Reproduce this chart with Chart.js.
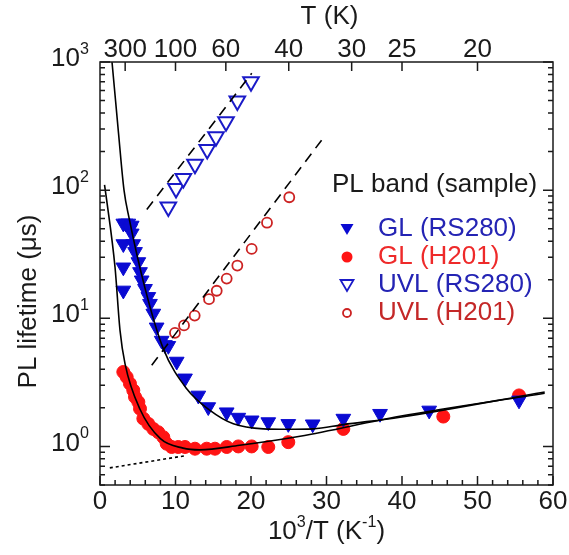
<!DOCTYPE html>
<html>
<head>
<meta charset="utf-8">
<script src="https://cdn.jsdelivr.net/npm/chart.js@4.4.1/dist/chart.umd.min.js"></script>
<style>
  body { margin: 0; background: #fff; }
  #wrap { width: 569px; height: 555px; }
</style>
</head>
<body>
<div id="wrap"><canvas id="lifetimeChart" width="569" height="555"></canvas></div>
<script>
// axis ranges and tick labels
const xMin = 0, xMax = 60;
const yMin = 0.5, yMax = 1000;
const bottomTicks = [0, 10, 20, 30, 40, 50, 60];
const yDecades = [0, 1, 2, 3];
const topTemps = [300, 100, 60, 40, 30, 25, 20];

// GL band, sample RS280 (filled blue triangles)
const glRsX = [3.09, 3.4, 3.75, 4.0, 4.2, 3.09, 4.2, 4.4, 4.64, 3.09, 5.08, 5.3, 5.52, 3.09, 5.96, 6.4, 6.62, 7.06, 7.5, 8.17, 8.6, 9.05, 10.16, 11.26, 13.02, 14.34, 16.78, 18.32, 20.09, 22.29, 24.94, 28.17, 32.23, 37.09, 43.6, 55.5];
const glRsY = [55, 55, 55, 50, 53, 38, 46, 38, 33, 25, 27.5, 23, 19.8, 16.5, 17, 14.7, 13, 10.9, 8.5, 6.7, 6.2, 6.1, 4.6, 3.4, 2.5, 2.03, 1.85, 1.68, 1.6, 1.55, 1.5, 1.49, 1.65, 1.8, 1.91, 2.29];

// GL band, sample H201 (filled red circles)
const glHX = [3.09, 3.53, 3.97, 4.41, 4.64, 5.08, 5.3, 5.74, 6.4, 7.06, 7.72, 8.39, 8.83, 9.49, 10.37, 11.26, 12.58, 14.13, 15.23, 16.78, 18.32, 20.09, 22.29, 24.94, 32.23, 45.47, 55.5];
const glHY = [3.81, 3.48, 3.09, 2.74, 2.43, 2.22, 1.97, 1.65, 1.5, 1.37, 1.29, 1.18, 1.05, 0.99, 0.99, 0.99, 0.96, 0.96, 0.96, 0.99, 1.0, 1.0, 0.99, 1.08, 1.37, 1.71, 2.5];

// UVL band, sample RS280 (open blue triangles)
const uvlRsX = [9.05, 10.07, 11.04, 12.58, 14.2, 15.36, 16.69, 18.19, 20.0];
const uvlRsY = [74, 103, 123, 159, 208, 261, 342, 496, 702];

// UVL band, sample H201 (open red circles)
const uvlHX = [9.93, 11.13, 12.54, 14.44, 15.46, 16.78, 18.19, 20.09, 22.12, 25.07];
const uvlHY = [7.7, 8.8, 10.5, 14.1, 16.4, 20.4, 25.8, 34.8, 55.7, 88];

// fitted curves
const fitRsX = [1.45, 1.59, 2.45, 3.18, 3.84, 5.96, 8.38, 11.48, 14.57, 17.66, 21.63, 24.73, 28.25, 32.23, 39.74, 58.9];
const fitRsY = [1200, 1000, 279, 100, 61, 17.2, 5.8, 2.82, 1.91, 1.5, 1.37, 1.36, 1.37, 1.48, 1.69, 2.66];
const fitHX = [0.6, 0.88, 1.99, 2.65, 3.31, 5.3, 8, 11, 13.2, 18.5, 26.5, 39.7, 58.9];
const fitHY = [110, 84, 25, 8.05, 4.43, 1.95, 1.15, 0.97, 0.94, 1.02, 1.2, 1.72, 2.6];
const dotX = [1.3, 11.5];
const dotY = [0.68, 0.85];
const dashRsX = [6.2, 20.1];
const dashRsY = [70.7, 816];
const dashHX = [6.85, 29.36];
const dashHY = [4.3, 246];

// legend
const legendTitle = 'PL band (sample)';
const legendLabels = ['GL (RS280)', 'GL (H201)', 'UVL (RS280)', 'UVL (H201)'];
const legendColors = ['#2424b4', '#ee2a2a', '#2424b4', '#c42828'];

const FONT = "'Liberation Sans', Arial, sans-serif";
const INK = '#1a1a1a';

function pts(xs, ys) {
  return xs.map((x, i) => ({ x: x, y: ys[i] }));
}

function lineSet(xs, ys, extra) {
  return Object.assign({
    data: pts(xs, ys),
    showLine: true,
    pointRadius: 0,
    borderColor: '#000',
    borderWidth: 1.6,
    fill: false,
    order: 0
  }, extra || {});
}

// draws "10" + superscript style pieces
function drawPieces(ctx, pieces, x, y, size, align) {
  let total = 0;
  pieces.forEach(p => {
    ctx.font = (p.sup ? size * 0.62 : size) + 'px ' + FONT;
    total += ctx.measureText(p.t).width;
  });
  let cx = align === 'right' ? x - total : align === 'center' ? x - total / 2 : x;
  ctx.textAlign = 'left';
  ctx.textBaseline = 'middle';
  pieces.forEach(p => {
    ctx.font = (p.sup ? size * 0.62 : size) + 'px ' + FONT;
    ctx.fillText(p.t, cx, p.sup ? y - size * 0.38 : y);
    cx += ctx.measureText(p.t).width;
  });
}

const framePlugin = {
  id: 'frame',
  afterDraw(chart) {
    const ctx = chart.ctx;
    const a = chart.chartArea;
    const xs = chart.scales.x, ys = chart.scales.y;
    ctx.save();
    ctx.strokeStyle = INK;
    ctx.fillStyle = INK;
    ctx.lineWidth = 1.5;
    ctx.strokeRect(a.left, a.top, a.right - a.left, a.bottom - a.top);

    ctx.beginPath();
    // bottom ticks, major every 10, minor every 2
    for (let v = xMin; v <= xMax; v += 2) {
      const px = xs.getPixelForValue(v);
      const len = v % 10 === 0 ? 9 : 5;
      ctx.moveTo(px, a.bottom);
      ctx.lineTo(px, a.bottom - len);
    }
    // top ticks at temperatures
    topTemps.forEach(t => {
      const px = xs.getPixelForValue(1000 / t);
      ctx.moveTo(px, a.top);
      ctx.lineTo(px, a.top + 9);
    });
    // log ticks left and right
    for (let d = -1; d <= 3; d++) {
      for (let m = 1; m <= 9; m++) {
        const v = m * Math.pow(10, d);
        if (v < yMin || v > yMax) continue;
        const py = ys.getPixelForValue(v);
        const len = m === 1 ? 10 : 5;
        ctx.moveTo(a.left, py);
        ctx.lineTo(a.left + len, py);
        ctx.moveTo(a.right, py);
        ctx.lineTo(a.right - len, py);
      }
    }
    ctx.stroke();

    const size = 26;
    ctx.font = size + 'px ' + FONT;
    ctx.textAlign = 'center';
    ctx.textBaseline = 'middle';
    bottomTicks.forEach(v => {
      ctx.fillText(String(v), xs.getPixelForValue(v), a.bottom + 17);
    });
    topTemps.forEach(t => {
      ctx.fillText(String(t), xs.getPixelForValue(1000 / t), a.top - 12);
    });
    yDecades.forEach(d => {
      drawPieces(ctx, [{ t: '10' }, { t: String(d), sup: true }], a.left - 11, ys.getPixelForValue(Math.pow(10, d)) - 3, size, 'right');
    });

    // axis titles
    ctx.font = size + 'px ' + FONT;
    ctx.textAlign = 'center';
    ctx.fillText('T (K)', (a.left + a.right) / 2 + 3, 17);
    drawPieces(ctx, [{ t: '10' }, { t: '3', sup: true }, { t: '/T (K' }, { t: '-1', sup: true }, { t: ')' }], (a.left + a.right) / 2, 532, size, 'center');
    ctx.save();
    ctx.translate(29, (a.top + a.bottom) / 2 + 28);
    ctx.rotate(-Math.PI / 2);
    ctx.font = size + 'px ' + FONT;
    ctx.textAlign = 'center';
    ctx.fillText('PL lifetime (\u03bcs)', 0, 0);
    ctx.restore();

    // legend
    ctx.fillStyle = INK;
    ctx.font = size + 'px ' + FONT;
    ctx.textAlign = 'left';
    ctx.fillText(legendTitle, 332, 185);
    legendLabels.forEach((lab, i) => {
      const y = 229 + i * 28;
      const mx = 347;
      ctx.fillStyle = legendColors[i];
      ctx.fillText(lab, 378, y);
      ctx.beginPath();
      if (i === 0 || i === 2) {
        ctx.moveTo(mx - 6.5, y - 5);
        ctx.lineTo(mx + 6.5, y - 5);
        ctx.lineTo(mx, y + 6);
        ctx.closePath();
      } else {
        ctx.arc(mx, y, i === 1 ? 5.5 : 4, 0, Math.PI * 2);
      }
      if (i < 2) {
        ctx.fillStyle = i === 0 ? '#0a0ad2' : '#ff1414';
        ctx.fill();
      } else {
        ctx.lineWidth = 1.8;
        ctx.strokeStyle = i === 2 ? '#1a1ac8' : '#cc2222';
        ctx.stroke();
      }
    });
    ctx.restore();
  }
};

new Chart(document.getElementById('lifetimeChart'), {
  type: 'scatter',
  data: {
    datasets: [
      lineSet(fitRsX, fitRsY, { cubicInterpolationMode: 'monotone' }),
      lineSet(fitHX, fitHY, { cubicInterpolationMode: 'monotone' }),
      lineSet(dotX, dotY, { borderDash: [3, 3], borderWidth: 1.6 }),
      lineSet(dashRsX, dashRsY, { borderDash: [10, 7] }),
      lineSet(dashHX, dashHY, { borderDash: [10, 7] }),
      {
        label: legendLabels[0],
        data: pts(glRsX, glRsY),
        pointStyle: 'triangle',
        rotation: 180,
        pointRadius: 8.5,
        backgroundColor: '#0a0ad2',
        borderColor: '#0a0ad2',
        borderWidth: 1,
        order: 2
      },
      {
        label: legendLabels[1],
        data: pts(glHX, glHY),
        pointStyle: 'circle',
        pointRadius: 6.5,
        backgroundColor: '#ff1414',
        borderColor: '#ff1414',
        borderWidth: 1,
        order: 2
      },
      {
        label: legendLabels[2],
        data: pts(uvlRsX, uvlRsY),
        pointStyle: 'triangle',
        rotation: 180,
        pointRadius: 9,
        backgroundColor: '#ffffff',
        borderColor: '#1a1ac8',
        borderWidth: 2,
        order: 2
      },
      {
        label: legendLabels[3],
        data: pts(uvlHX, uvlHY),
        pointStyle: 'circle',
        pointRadius: 5,
        backgroundColor: '#ffffff',
        borderColor: '#cc2222',
        borderWidth: 1.8,
        order: 2
      }
    ]
  },
  options: {
    responsive: false,
    animation: false,
    devicePixelRatio: 1,
    layout: { padding: { left: 100, right: 16, top: 62, bottom: 70 } },
    scales: {
      x: { type: 'linear', min: xMin, max: xMax, display: false },
      y: { type: 'logarithmic', min: yMin, max: yMax, display: false }
    },
    plugins: {
      legend: { display: false },
      tooltip: { enabled: false }
    }
  },
  plugins: [framePlugin]
});
</script>
</body>
</html>
